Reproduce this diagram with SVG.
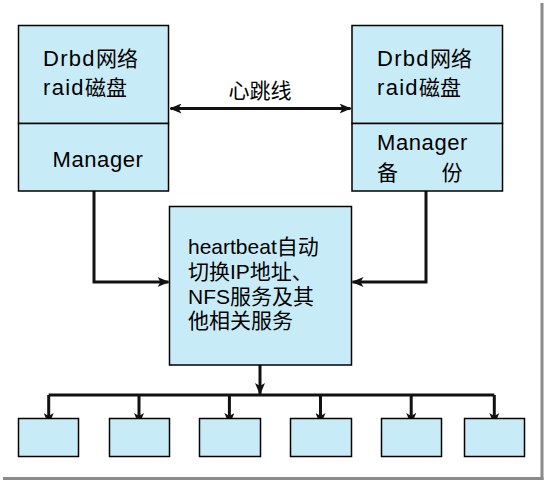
<svg xmlns="http://www.w3.org/2000/svg" width="545" height="481" viewBox="0 0 545 481">
  <defs>
    <style>
      .box { fill: #c8ecf7; stroke: #000; stroke-width: 1.5; }
      .conn { fill: none; stroke: #111; stroke-width: 3; }
      .t { font-family: "Liberation Sans", "Noto Sans CJK SC", sans-serif; font-size: 21px; fill: #000; }
      .ls { font-size: 22px; letter-spacing: 1.3px; }
      .ls1 { font-size: 22px; letter-spacing: 0.6px; }
    </style>
    <marker id="ah" markerUnits="userSpaceOnUse" markerWidth="12" markerHeight="10" refX="11" refY="5" orient="auto-start-reverse" viewBox="0 0 12 10">
      <path d="M0,0 L12,5 L0,10 L3,5 z" fill="#111"/>
    </marker>
  </defs>
  <rect width="545" height="481" fill="#fff"/>
  <g id="frame-shadow" fill="#8a8a8a">
    <rect x="540.5" y="3" width="3" height="477"/>
    <rect x="3" y="477" width="540.5" height="3"/>
  </g>

  <g id="connectors">
    <path class="conn" d="M170.5,108.5 H350.5" marker-start="url(#ah)" marker-end="url(#ah)"/>
    <path class="conn" d="M94,191 V282 H168.5" marker-end="url(#ah)"/>
    <path class="conn" d="M426,191 V282 H352.5" marker-end="url(#ah)"/>
    <path class="conn" d="M260,365 V394" marker-end="url(#ah)"/>
    <path class="conn" d="M48.7,395 H494.3"/>
    <path class="conn" d="M48.7,395 V424" marker-end="url(#ah)"/>
    <path class="conn" d="M139,395 V424" marker-end="url(#ah)"/>
    <path class="conn" d="M229.4,395 V424" marker-end="url(#ah)"/>
    <path class="conn" d="M320.5,395 V424" marker-end="url(#ah)"/>
    <path class="conn" d="M411.2,395 V424" marker-end="url(#ah)"/>
    <path class="conn" d="M494.3,395 V424" marker-end="url(#ah)"/>
  </g>
  <text class="t" x="260" y="98" text-anchor="middle" font-size="22">心跳线</text>

  <g id="node-left">
    <rect class="box" x="18.5" y="25.5" width="150" height="98"/>
    <rect class="box" x="18.5" y="123.5" width="150" height="67.5"/>
    <text class="t" x="43" y="66"><tspan class="ls">Drbd</tspan>网络</text>
    <text class="t" x="43" y="95"><tspan class="ls">raid</tspan>磁盘</text>
    <text class="t ls1" x="52.5" y="167">Manager</text>
  </g>

  <g id="node-right">
    <rect class="box" x="352" y="25.5" width="150.5" height="98"/>
    <rect class="box" x="352" y="123.5" width="150.5" height="67.5"/>
    <text class="t" x="377" y="66"><tspan class="ls">Drbd</tspan>网络</text>
    <text class="t" x="377" y="95"><tspan class="ls">raid</tspan>磁盘</text>
    <text class="t ls1" x="377" y="150">Manager</text>
    <text class="t" x="377" y="180">备</text>
    <text class="t" x="441.5" y="180">份</text>
  </g>

  <g id="node-center">
    <rect class="box" x="169.5" y="206.5" width="182" height="158.5"/>
    <text class="t" x="188" y="254">heartbeat自动</text>
    <text class="t" x="188" y="279">切换IP地址、</text>
    <text class="t" x="188" y="304">NFS服务及其</text>
    <text class="t" x="188" y="328">他相关服务</text>
  </g>

  <g id="node-b1"><rect class="box" x="18.5" y="418.5" width="60" height="38"/></g>
  <g id="node-b2"><rect class="box" x="109.5" y="418.5" width="60" height="38"/></g>
  <g id="node-b3"><rect class="box" x="199.5" y="418.5" width="61" height="38"/></g>
  <g id="node-b4"><rect class="box" x="290.5" y="418.5" width="61" height="38"/></g>
  <g id="node-b5"><rect class="box" x="381.5" y="418.5" width="60" height="38"/></g>
  <g id="node-b6"><rect class="box" x="464.5" y="418.5" width="60" height="38"/></g>
</svg>
